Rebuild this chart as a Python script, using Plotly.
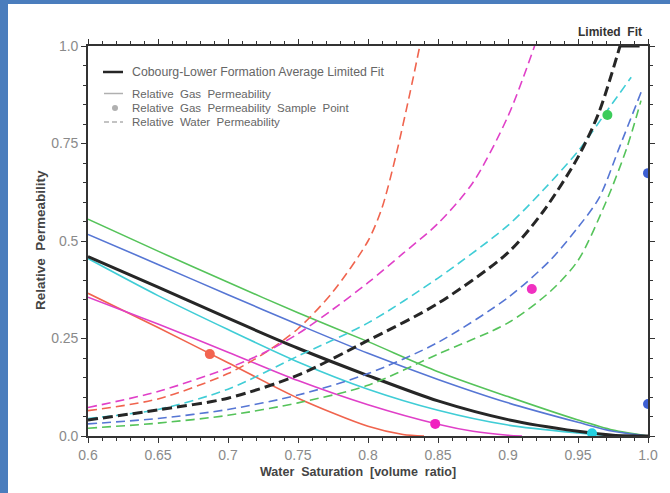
import plotly.graph_objects as go

# Relative gas permeability curves (solid), water saturation on x
sw_gas = [0.6, 0.65, 0.7, 0.75, 0.8, 0.85, 0.9, 0.95, 0.975, 1.0]
krg_green = [0.556, 0.474, 0.394, 0.316, 0.242, 0.165, 0.101, 0.041, 0.015, 0.0]
krg_blue = [0.517, 0.44, 0.362, 0.286, 0.212, 0.145, 0.085, 0.035, 0.012, 0.0]
krg_black = [0.46, 0.382, 0.302, 0.225, 0.155, 0.09, 0.042, 0.012, 0.002, 0.0]
krg_cyan = [0.455, 0.36, 0.273, 0.19, 0.12, 0.066, 0.028, 0.008, 0.001, 0.0]
sw_gas_salmon = [0.6, 0.65, 0.7, 0.75, 0.8, 0.825, 0.84]
krg_salmon = [0.366, 0.278, 0.188, 0.097, 0.025, 0.004, 0.0]
sw_gas_magenta = [0.6, 0.65, 0.7, 0.75, 0.8, 0.85, 0.875, 0.9, 0.91]
krg_magenta = [0.356, 0.287, 0.215, 0.142, 0.08, 0.03, 0.012, 0.002, 0.0]

# Relative water permeability curves (dashed)
sw_w_salmon = [0.6, 0.65, 0.7, 0.725, 0.75, 0.775, 0.8, 0.81, 0.82, 0.83, 0.837]
krw_salmon = [0.065, 0.095, 0.16, 0.21, 0.275, 0.37, 0.5, 0.585, 0.72, 0.88, 1.0]
sw_w_magenta = [0.6, 0.65, 0.7, 0.725, 0.75, 0.775, 0.8, 0.825, 0.85, 0.875, 0.9, 0.919]
krw_magenta = [0.073, 0.114, 0.174, 0.212, 0.262, 0.325, 0.393, 0.468, 0.545, 0.65, 0.82, 1.0]
sw_w_cyan = [0.6, 0.65, 0.7, 0.75, 0.8, 0.85, 0.9, 0.925, 0.95, 0.97, 0.988]
krw_cyan = [0.045, 0.068, 0.12, 0.205, 0.29, 0.405, 0.54, 0.63, 0.73, 0.83, 0.92]
sw_w_black = [0.6, 0.65, 0.7, 0.75, 0.8, 0.85, 0.9, 0.925, 0.95, 0.965, 0.98]
krw_black = [0.041, 0.067, 0.097, 0.156, 0.245, 0.34, 0.47, 0.575, 0.715, 0.83, 1.0]
sw_cap_black = [0.98, 0.994]
krw_cap_black = [1.0, 1.0]
sw_w_blue = [0.6, 0.65, 0.7, 0.75, 0.8, 0.85, 0.9, 0.93, 0.95, 0.965, 0.98, 0.996]
krw_blue = [0.031, 0.045, 0.068, 0.105, 0.16, 0.24, 0.355, 0.45, 0.535, 0.61, 0.744, 0.89]
sw_w_green = [0.6, 0.65, 0.7, 0.75, 0.8, 0.85, 0.9, 0.93, 0.95, 0.97, 0.985, 0.995]
krw_green = [0.02, 0.033, 0.053, 0.085, 0.13, 0.21, 0.29, 0.37, 0.45, 0.6, 0.74, 0.86]

# Sample points: water saturation, relative permeability, colour
pt_sw = [0.687, 0.848, 0.917, 0.971, 1.0, 1.0, 0.96]
pt_kr = [0.21, 0.031, 0.377, 0.823, 0.674, 0.082, 0.007]
pt_color = ["#f26450", "#f020c0", "#f030c0", "#3ccc5a", "#3d5fd2", "#3d5fd2", "#22d0e0"]

x_tickvals = [0.6, 0.65, 0.7, 0.75, 0.8, 0.85, 0.9, 0.95, 1.0]
x_ticktext = ["0.6", "0.65", "0.7", "0.75", "0.8", "0.85", "0.9", "0.95", "1.0"]
y_tickvals = [0.0, 0.25, 0.5, 0.75, 1.0]
y_ticktext = ["0.0", "0.25", "0.5", "0.75", "1.0"]

C_GREEN = "#55c35a"
C_BLUE = "#5676d4"
C_BLACK = "#262626"
C_CYAN = "#40cdd6"
C_SALMON = "#f0644e"
C_MAGENTA = "#e040c8"

fig = go.Figure()


def add_curve(x, y, color, width, dash=None, shape="spline"):
    fig.add_trace(go.Scatter(
        x=x, y=y, mode="lines", showlegend=False, hoverinfo="skip",
        line=dict(color=color, width=width, shape=shape, smoothing=0.8,
                  dash=dash)))


# gas curves
add_curve(sw_gas, krg_green, C_GREEN, 1.6)
add_curve(sw_gas, krg_blue, C_BLUE, 1.6)
add_curve(sw_gas, krg_cyan, C_CYAN, 1.6)
add_curve(sw_gas_salmon, krg_salmon, C_SALMON, 1.6)
add_curve(sw_gas_magenta, krg_magenta, C_MAGENTA, 1.6)
add_curve(sw_gas, krg_black, C_BLACK, 3)

# water curves
DASH = "9px,5px"
add_curve(sw_w_salmon, krw_salmon, C_SALMON, 1.6, DASH)
add_curve(sw_w_magenta, krw_magenta, C_MAGENTA, 1.6, DASH)
add_curve(sw_w_cyan, krw_cyan, C_CYAN, 1.6, DASH)
add_curve(sw_w_blue, krw_blue, C_BLUE, 1.6, DASH)
add_curve(sw_w_green, krw_green, C_GREEN, 1.6, DASH)
add_curve(sw_w_black, krw_black, C_BLACK, 3, "10px,5px")
add_curve(sw_cap_black, krw_cap_black, C_BLACK, 3, None, "linear")

# sample points
fig.add_trace(go.Scatter(
    x=pt_sw, y=pt_kr, mode="markers", showlegend=False, hoverinfo="skip",
    marker=dict(color=pt_color, size=10, line=dict(width=0)), cliponaxis=True))

TICK_FONT = dict(family="Liberation Sans Narrow, Liberation Sans, Arial", size=14, color="#8a8a8a")
axis_common = dict(
    showline=True, linecolor="#333333", linewidth=1.6, mirror="ticks",
    ticks="outside", ticklen=5, tickwidth=1.2, tickcolor="#333333",
    showgrid=False, zeroline=False, tickfont=TICK_FONT,
)

fig.update_xaxes(
    range=[0.6, 1.0], tickvals=x_tickvals, ticktext=x_ticktext,
    minor=dict(dtick=0.01, ticks="outside", ticklen=3, tickcolor="#333333", tickwidth=1),
    **axis_common)
fig.update_yaxes(
    range=[0.0, 1.0], tickvals=y_tickvals, ticktext=y_ticktext,
    minor=dict(dtick=0.05, ticks="outside", ticklen=3, tickcolor="#333333", tickwidth=1),
    **axis_common)

PX_L, PX_R, PX_T, PX_B = 88, 648, 46, 436
W, H = 670, 493


def px_x(p):
    return (p - PX_L) / (PX_R - PX_L)


def px_y(p):
    return (PX_B - p) / (PX_B - PX_T)


shapes = [
    # blue frame strips along the left and top edges of the page
    dict(type="rect", xref="paper", yref="paper", x0=px_x(0), x1=px_x(8),
         y0=px_y(H), y1=px_y(0), fillcolor="#4a7dbd", line=dict(width=0), layer="above"),
    dict(type="rect", xref="paper", yref="paper", x0=px_x(0), x1=px_x(W),
         y0=px_y(4), y1=px_y(0), fillcolor="#4a7dbd", line=dict(width=0), layer="above"),
    # legend glyphs
    dict(type="line", xref="paper", yref="paper", x0=px_x(103), x1=px_x(123),
         y0=px_y(72), y1=px_y(72), line=dict(color=C_BLACK, width=2.5)),
    dict(type="line", xref="paper", yref="paper", x0=px_x(104), x1=px_x(123),
         y0=px_y(93.5), y1=px_y(93.5), line=dict(color="#b0b0b0", width=1.5)),
    dict(type="circle", xref="paper", yref="paper", x0=px_x(112), x1=px_x(118),
         y0=px_y(105), y1=px_y(111), fillcolor="#b0b0b0", line=dict(width=0)),
    dict(type="line", xref="paper", yref="paper", x0=px_x(104), x1=px_x(123),
         y0=px_y(122), y1=px_y(122), line=dict(color="#b0b0b0", width=1.5, dash="5px,3px")),
]

TXT = "Liberation Sans, Arial"
SP = "\u00a0 "  # slightly wider word gap
legend_labels = [
    ("Cobourg-Lower Formation Average Limited Fit", 72, 12.3),
    (SP.join(["Relative", "Gas", "Permeability"]), 93.5, 11.5),
    (SP.join(["Relative", "Gas", "Permeability", "Sample", "Point"]), 108, 11.5),
    (SP.join(["Relative", "Water", "Permeability"]), 122.5, 11.5),
]
annotations = [
    dict(text=t, x=px_x(131), y=px_y(yy), xref="paper", yref="paper",
         xanchor="left", yanchor="middle", showarrow=False, borderpad=0,
         font=dict(family=TXT, size=fs, color="#666666"))
    for t, yy, fs in legend_labels
]
annotations += [
    dict(text="<b>Limited" + SP + "Fit</b>", x=px_x(610), y=px_y(32), xref="paper", yref="paper",
         xanchor="center", yanchor="middle", showarrow=False,
         font=dict(family=TXT, size=12, color="#333333")),
    dict(text="<b>" + SP.join(["Water", "Saturation", "[volume", "ratio]"]) + "</b>",
         x=px_x(358), y=px_y(472),
         xref="paper", yref="paper", xanchor="center", yanchor="middle", showarrow=False,
         font=dict(family=TXT, size=12.5, color="#444444")),
    dict(text="<b>Relative" + SP + "Permeability</b>", x=px_x(40), y=px_y(240), textangle=-90,
         xref="paper", yref="paper", xanchor="center", yanchor="middle", showarrow=False,
         font=dict(family=TXT, size=13.5, color="#444444")),
]

fig.update_layout(
    width=W, height=H,
    margin=dict(l=PX_L, r=W - PX_R, t=PX_T, b=H - PX_B),
    paper_bgcolor="white", plot_bgcolor="white",
    shapes=shapes, annotations=annotations, showlegend=False,
)

fig.write_html("out.html")
